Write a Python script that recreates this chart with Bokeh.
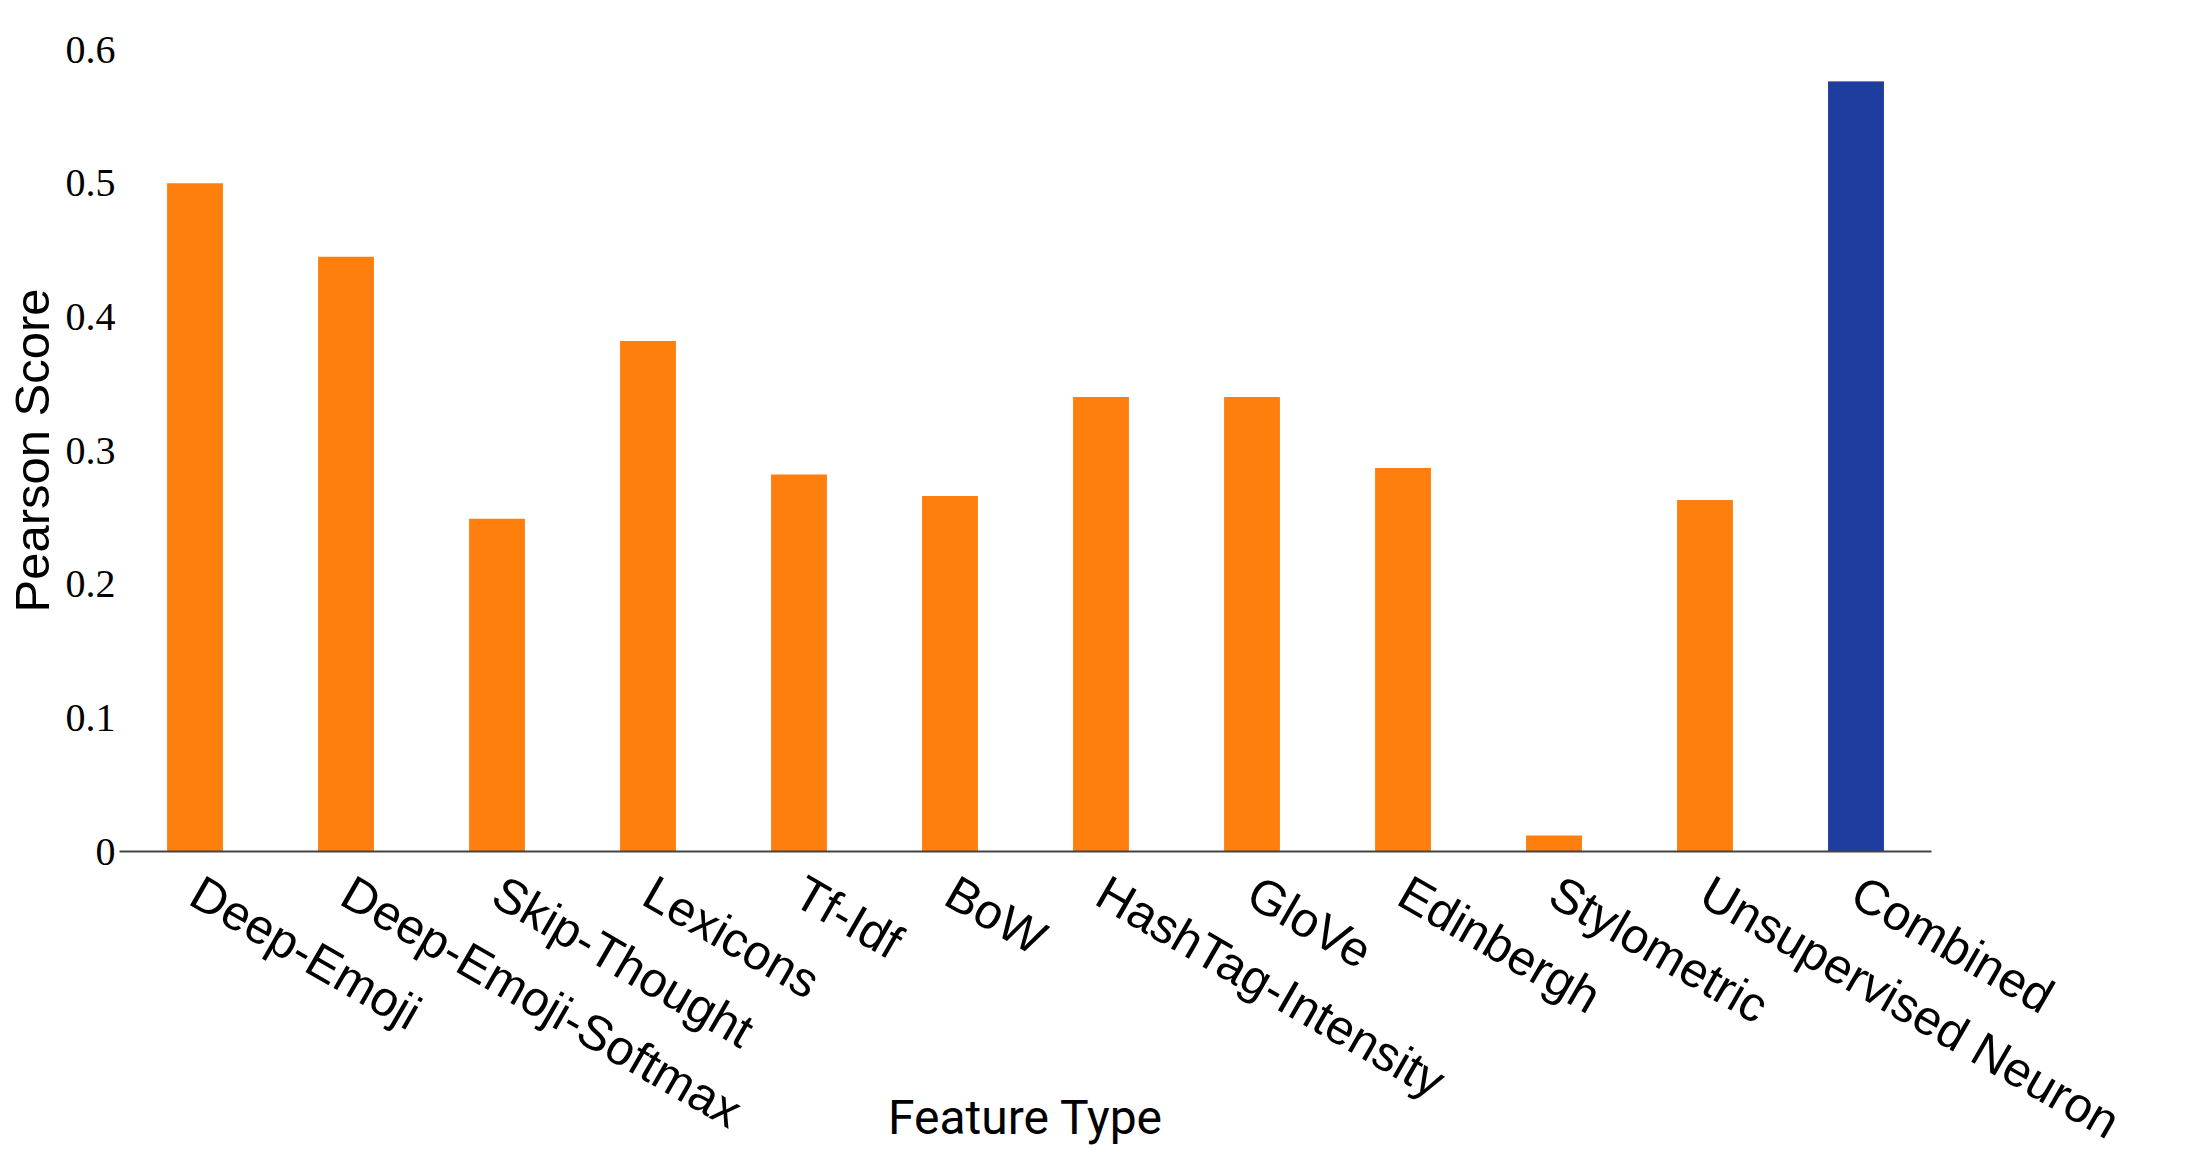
import math
from bokeh.plotting import figure
from bokeh.models import Range1d, FactorRange
from bokeh.embed import file_html
from bokeh.resources import INLINE

features = ["Deep-Emoji", "Deep-Emoji-Softmax", "Skip-Thought", "Lexicons", "Tf-Idf", "BoW",
            "HashTag-Intensity", "GloVe", "Edinbergh", "Stylometric", "Unsupervised Neuron", "Combined"]
scores = [0.500, 0.445, 0.249, 0.382, 0.282, 0.266, 0.340, 0.340, 0.287, 0.012, 0.263, 0.576]
highlight = ["Combined"]
highlight_scores = [0.576]
y_ticks = [0, 0.1, 0.2, 0.3, 0.4, 0.5, 0.6]
y_tick_labels = ["0", "0.1", "0.2", "0.3", "0.4", "0.5", "0.6"]
x_title = "Feature Type"
y_title = "Pearson Score"

ORANGE = "#ff7f0e"
BLUE = "#1d3e9f"

p = figure(x_range=FactorRange(*features, range_padding=0), y_range=Range1d(0, 0.6),
           width=2192, height=1149, output_backend="svg", toolbar_location=None,
           min_border_left=119, min_border_top=49, min_border_right=261, min_border_bottom=298)
p.outline_line_color = None
p.xgrid.visible = False
p.ygrid.visible = False

p.vbar(x=features, top=scores, width=0.37, fill_color=ORANGE, line_color=None)
p.vbar(x=highlight, top=highlight_scores, width=0.37, fill_color=BLUE, line_color=None)

# y axis
ya = p.yaxis[0]
ya.ticker = y_ticks
ya.major_label_overrides = {v: s for v, s in zip(y_ticks, y_tick_labels)}
ya.axis_line_color = None
ya.major_tick_line_color = None
ya.minor_tick_line_color = None
ya.major_tick_out = 0
ya.major_label_standoff = 4
ya.major_label_text_font = "Liberation Serif"
ya.major_label_text_font_size = "40px"
ya.major_label_text_color = "#000000"
ya.axis_label = y_title
ya.axis_label_text_font = "Liberation Sans"
ya.axis_label_text_font_size = "49px"
ya.axis_label_text_font_style = "normal"
ya.axis_label_text_color = "#000000"
ya.axis_label_standoff = 4

# x axis
xa = p.xaxis[0]
xa.axis_line_color = "#444444"
xa.axis_line_width = 2
xa.major_tick_line_color = None
xa.minor_tick_line_color = None
xa.major_tick_out = 0
xa.major_label_standoff = 37
xa.major_label_orientation = -math.pi / 6
xa.major_label_text_font = "Liberation Sans"
xa.major_label_text_font_size = "49px"
xa.major_label_text_color = "#000000"
xa.axis_label = x_title
xa.axis_label_text_font = "Roboto"
xa.axis_label_text_font_size = "48px"
xa.axis_label_text_font_style = "normal"
xa.axis_label_text_color = "#000000"
xa.axis_label_text_line_height = 0.8
xa.axis_label_standoff = -86

open("out.html", "w").write(file_html(p, INLINE))
